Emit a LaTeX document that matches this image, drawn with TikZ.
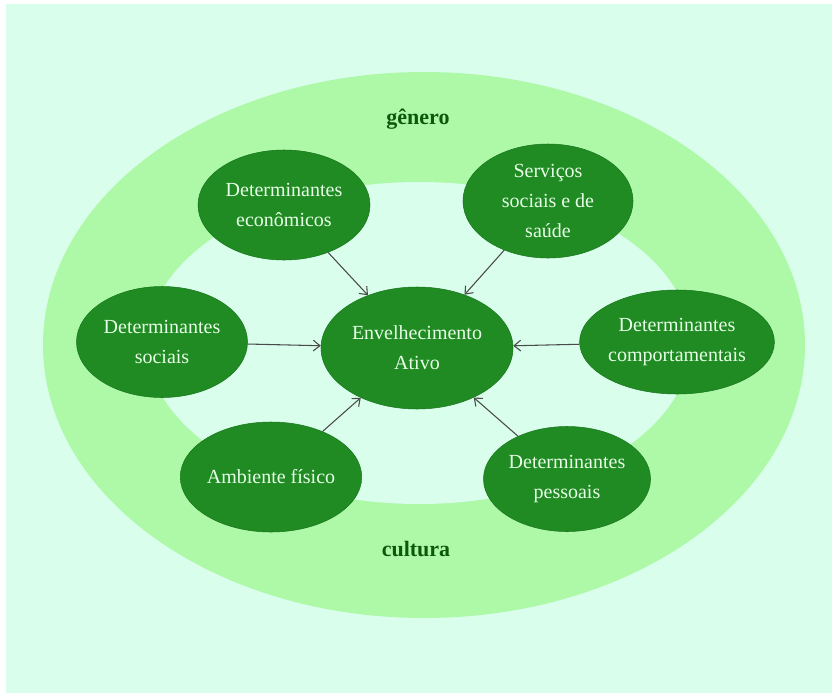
\documentclass[tikz,border=0pt]{standalone}
\usepackage{fontspec}
\setmainfont{Liberation Serif}
\usetikzlibrary{shapes.geometric,arrows.meta}
\definecolor{bgpale}{HTML}{DAFEEC}
\definecolor{ringgreen}{HTML}{ADF9A8}
\definecolor{nodegreen}{HTML}{1F8B22}
\definecolor{nodetext}{HTML}{E8FFE8}
\definecolor{labelgreen}{HTML}{0B5A0B}
\definecolor{arrowgray}{HTML}{4A4A4A}
\tikzset{
  factor/.style 2 args={ellipse, fill=nodegreen, draw=nodegreen!85!black, line width=0.4pt,
    text=nodetext, inner sep=0pt, align=center,
    minimum width=#1*0.75pt, minimum height=#2*0.75pt,
    font=\fontsize{15}{22.5}\selectfont},
  ringlabel/.style={text=labelgreen, font=\fontsize{16.5}{20}\selectfont\bfseries},
  influence/.style={draw=arrowgray, line width=0.8pt, -{Straight Barb[length=5pt,width=8pt]}}
}
\begin{document}
\begin{tikzpicture}[x=0.75pt,y=-0.75pt]
\useasboundingbox (0,0) rectangle (832,693);
\fill[white] (0,0) rectangle (832,693);
\fill[bgpale] (6,4) rectangle (832,693);
\fill[ringgreen] (424,345) ellipse [x radius=285.75pt, y radius=204.75pt];
\fill[bgpale] (419,343) ellipse [x radius=204pt, y radius=120.75pt];

\node[ringlabel] (gen) at (418,119) {gênero};
\node[ringlabel] (cul) at (416,549) {cultura};

\node[factor={192}{122}] (ea) at (417,348) {Envelhecimento\\Ativo};
\node[factor={172}{110}] (eco) at (284,205) {Determinantes\\econômicos};
\node[factor={170}{114}] (ser) at (548,201) {Serviços\\sociais e de\\saúde};
\node[factor={171}{111}] (soc) at (162,342) {Determinantes\\sociais};
\node[factor={172}{104}] (com) at (677,342) {Determinantes\\comportamentais};
\node[factor={164}{110}] (amb) at (271,477) {Ambiente físico};
\node[factor={167}{105}] (pes) at (567,479) {Determinantes\\pessoais};

\draw[influence] (eco) -- (ea);
\draw[influence] (ser) -- (ea);
\draw[influence] (soc) -- (ea);
\draw[influence] (com) -- (ea);
\draw[influence] (amb) -- (ea);
\draw[influence] (pes) -- (ea);
\end{tikzpicture}
\end{document}
